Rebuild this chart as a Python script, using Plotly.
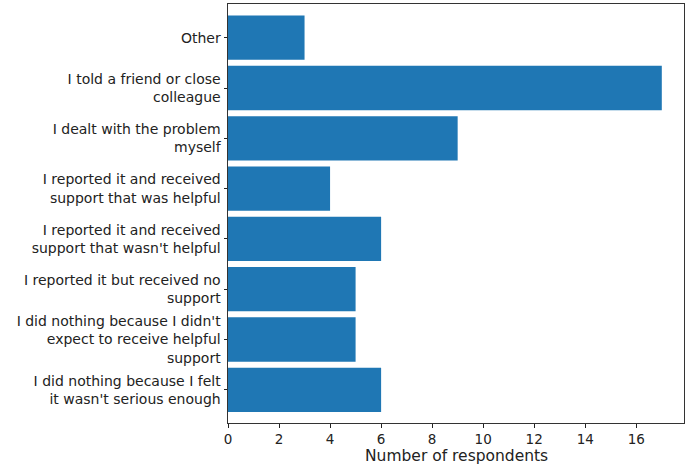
import plotly.graph_objects as go

categories = [
    "I did nothing because I felt<br>it wasn't serious enough",
    "I did nothing because I didn't<br>expect to receive helpful<br>support",
    "I reported it but received no<br>support",
    "I reported it and received<br>support that wasn't helpful",
    "I reported it and received<br>support that was helpful",
    "I dealt with the problem<br>myself",
    "I told a friend or close<br>colleague",
    "Other",
]
values = [6, 5, 5, 6, 4, 9, 17, 3]
x_ticks = [0, 2, 4, 6, 8, 10, 12, 14, 16]
x_title = "Number of respondents"

positions = list(range(len(categories)))

fig = go.Figure(
    go.Bar(
        x=values,
        y=positions,
        orientation="h",
        width=0.88,
        marker=dict(color="#1f77b4", line=dict(width=0)),
        hoverinfo="skip",
    )
)

font = "DejaVu Sans, sans-serif"
fig.update_layout(
    width=687,
    height=464,
    margin=dict(l=228, r=3, t=4, b=41),
    plot_bgcolor="white",
    paper_bgcolor="white",
    showlegend=False,
    font=dict(family=font, size=14, color="#222"),
)
fig.add_annotation(
    text=x_title,
    xref="paper", yref="paper",
    x=0.5, y=0,
    xanchor="center", yanchor="middle",
    yshift=-33,
    showarrow=False,
    font=dict(size=15.5, color="#222"),
)
fig.update_xaxes(
    range=[0, 17.87],
    tickvals=x_ticks,
    ticks="outside",
    ticklen=3.5,
    tickcolor="#222",
    showgrid=False,
    zeroline=False,
    showline=True,
    linecolor="#333",
    linewidth=1,
    mirror=True,
    automargin=False,
    tickfont=dict(size=13.5),
)
fig.update_yaxes(
    range=[-0.66, 7.67],
    tickvals=positions,
    ticktext=categories,
    ticks="outside",
    ticklen=3.5,
    tickcolor="#222",
    showgrid=False,
    zeroline=False,
    showline=True,
    linecolor="#333",
    linewidth=1,
    mirror=True,
    automargin=False,
    tickfont=dict(size=14),
)

fig.write_html(
    "out.html",
    config={"displayModeBar": False},
    post_script="document.body.style.margin='0';document.body.style.overflow='hidden';",
)
